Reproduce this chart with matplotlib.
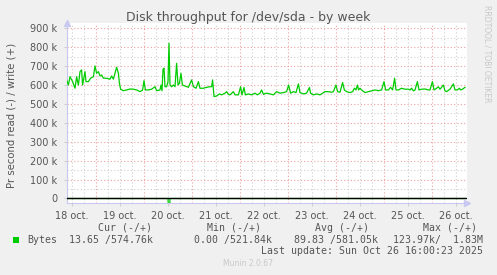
import numpy as np
import matplotlib
matplotlib.use('Agg')
import matplotlib.pyplot as plt
from matplotlib.patches import Rectangle

# hours since 18 oct 00:00, write throughput in k bytes/s
write_hours = [9.3, 10.2, 11, 12.3, 13.5, 14.3, 15.2, 16, 16.8, 17.3, 18.5, 19, 20.2, 21.3, 22.7,
               23.5, 24.3, 25.2, 26, 26.8, 27.7, 29.3, 31, 31.8, 32.7, 33.5, 34.3, 35.2, 35.7, 36.3,
               37.7, 39.3, 41, 42.7, 44.3, 46, 47.3, 48, 48.7, 50.2, 51.8, 53.5, 54.3, 56, 56.5,
               57, 57.5, 58, 58.5, 59.3, 60, 60.5, 61, 61.8, 62.7, 63.5, 64.3, 65, 65.7, 66.5,
               67.2, 68.5, 70.2, 71.8, 72.7, 74, 75.2, 76, 77.7, 79.3, 81, 81.8, 82.3, 83, 84.3,
               85.7, 86.8, 88.5, 89.3, 90.2, 91, 92.7, 93.5, 95.2, 96.3, 97, 98, 98.7, 100.2, 101.8,
               103.5, 104.7, 106, 106.8, 107.7, 109.3, 111, 112.7, 114.3, 116, 117.7, 119.3, 120.3,
               121.3, 122.7, 124, 125.2, 126, 127.7, 129.3, 130.7, 131.3, 132.7, 134.3, 136, 137.3,
               138.5, 140.2, 141.8, 142.7, 144, 144.8, 146, 147.3, 148.2, 149.3, 151, 152.3, 153.2,
               154, 154.7, 155.3, 156, 156.8, 158.5, 160.2, 161.8, 163.5, 165.2, 166.8, 168, 168.8,
               170.2, 171.3, 172.3, 173.3, 174, 175.2, 176.8, 178.5, 180.2, 181, 181.8, 182.7, 183.5,
               184.7, 185.5, 186.8, 188.5, 190.2, 191, 192.2, 193, 194.3, 195.2, 196, 196.8, 197.7,
               198.5, 199.3, 201, 202.7, 203.5, 204.7, 205.7, 206.3, 207.3, 208.5]
write_k = [627, 600, 644, 618, 583, 644, 600, 671, 680, 600, 671, 618, 618, 636, 644,
           701, 662, 671, 648, 653, 636, 636, 631, 648, 631, 662, 694, 662, 609, 578,
           570, 574, 579, 578, 574, 565, 574, 623, 574, 574, 578, 591, 570, 574, 600,
           570, 683, 689, 591, 591, 618, 821, 600, 591, 600, 591, 715, 600, 609, 662,
           600, 595, 588, 627, 591, 583, 618, 583, 583, 588, 591, 591, 627, 539, 542,
           553, 548, 557, 565, 551, 548, 565, 548, 548, 591, 548, 587, 548, 553, 548,
           557, 548, 557, 574, 551, 557, 553, 548, 565, 557, 560, 565, 600,
           557, 565, 560, 606, 560, 553, 557, 587, 557, 548, 553, 548, 557,
           565, 565, 562, 565, 600, 565, 562, 613, 574, 565, 560, 565, 583,
           574, 600, 574, 583, 574, 560, 565, 569, 574, 570, 574, 618, 574,
           574, 588, 574, 636, 574, 574, 583, 578, 578, 574, 583, 569, 574,
           618, 574, 578, 579, 574, 574, 618, 574, 583, 591, 578, 588, 600,
           569, 565, 578, 606, 574, 574, 583, 574, 578, 588]

# read throughput (drawn negative)
read_hours = [9.3, 60.0, 60.5, 61.0, 208.5]
read_k = [0, 0, -124, 0, 0]

day_labels = ['18 oct.', '19 oct.', '20 oct.', '21 oct.', '22 oct.', '23 oct.', '24 oct.', '25 oct.', '26 oct.']
ytick_vals = [0, 100, 200, 300, 400, 500, 600, 700, 800, 900]
ytick_labels = ['0', '100 k', '200 k', '300 k', '400 k', '500 k', '600 k', '700 k', '800 k', '900 k']

W, H = 497, 275
fig = plt.figure(figsize=(W / 100, H / 100), dpi=100)
fig.patch.set_facecolor('#F0F0F0')

ax = fig.add_axes([67 / W, (H - 203) / H, 400 / W, 180 / H])
ax.set_facecolor('white')

x_w = 18 + np.array(write_hours) / 24
x_r = 18 + np.array(read_hours) / 24
ax.set_xlim(18 + 9.5 / 24, 18 + 209.5 / 24)
ax.set_ylim(-23.8, 928)

# grid
for d in np.arange(18, 27.01, 0.25):
    if abs(d - round(d)) < 1e-6:
        continue
    ax.axvline(d, color='#CFCFCF', lw=0.8, ls=(0, (1, 2)), zorder=1)
for d in range(19, 27):
    ax.axvline(d, color='#F0A0A0', lw=0.8, ls=(0, (1, 2)), zorder=1)
for v in np.arange(50, 951, 100):
    ax.axhline(v, color='#CFCFCF', lw=0.8, ls=(0, (1, 2)), zorder=1)
for v in ytick_vals[1:]:
    ax.axhline(v, color='#F0A0A0', lw=0.8, ls=(0, (1, 2)), zorder=1)

ax.plot(x_w, write_k, color='#00CC00', lw=0.9, zorder=3)
ax.plot(x_r, read_k, color='#00CC00', lw=0.9, zorder=3)
ax.axhline(0, color='black', lw=1.0, zorder=4)

for s in ['top', 'right']:
    ax.spines[s].set_visible(False)
for s in ['left', 'bottom']:
    ax.spines[s].set_color('#C8C8F0')
    ax.spines[s].set_linewidth(0.8)
ax.plot([0], [1], marker='^', color='#C8C8F0', ms=4, transform=ax.transAxes, clip_on=False)
ax.plot([1], [0], marker='>', color='#C8C8F0', ms=4, transform=ax.transAxes, clip_on=False)

ax.set_yticks(ytick_vals)
ax.set_yticklabels(ytick_labels)
ax.set_xticks(np.arange(18.5, 27, 1))
ax.set_xticklabels(day_labels)
ax.tick_params(axis='both', colors='#CFCFCF', labelcolor='#555555', labelsize=7, length=2, width=0.8)
ax.tick_params(axis='x', pad=4)
ax.tick_params(axis='y', pad=5)

fig.text(248 / W, 1 - 17 / H, 'Disk throughput for /dev/sda - by week', ha='center', va='center',
         fontsize=9, color='#555555')
fig.text(12 / W, 1 - 115 / H, 'Pr second read (-) / write (+)', rotation=90, ha='center', va='center',
         fontsize=7.3, color='#555555')
fig.text(487 / W, 1 - 5 / H, 'RRDTOOL / TOBI OETIKER', rotation=-90, ha='center', va='top',
         fontsize=5.5, color='#C8C8C8')

mono = dict(family='DejaVu Sans Mono', fontsize=7.1, color='#555555', va='center')
fig.text(98 / W, 1 - 228 / H, 'Cur (-/+)', ha='left', **mono)
fig.text(207 / W, 1 - 228 / H, 'Min (-/+)', ha='left', **mono)
fig.text(315 / W, 1 - 228 / H, 'Avg (-/+)', ha='left', **mono)
fig.text(423 / W, 1 - 228 / H, 'Max (-/+)', ha='left', **mono)
fig.text(27 / W, 1 - 240 / H, 'Bytes', ha='left', **mono)
fig.text(153 / W, 1 - 240 / H, '13.65 /574.76k', ha='right', **mono)
fig.text(272 / W, 1 - 240 / H, '0.00 /521.84k', ha='right', **mono)
fig.text(378 / W, 1 - 240 / H, '89.83 /581.05k', ha='right', **mono)
fig.text(483 / W, 1 - 240 / H, '123.97k/  1.83M', ha='right', **mono)
fig.text(483 / W, 1 - 251 / H, 'Last update: Sun Oct 26 16:00:23 2025', ha='right', **mono)
fig.text(248 / W, 1 - 264 / H, 'Munin 2.0.67', ha='center', va='center', fontsize=5.5, color='#C8C8C8')
fig.patches.append(Rectangle((13 / W, 1 - 243 / H), 6 / W, 6 / H, transform=fig.transFigure,
                             facecolor='#00CC00', edgecolor='none'))

fig.savefig('out.png', dpi=100, facecolor=fig.get_facecolor())
